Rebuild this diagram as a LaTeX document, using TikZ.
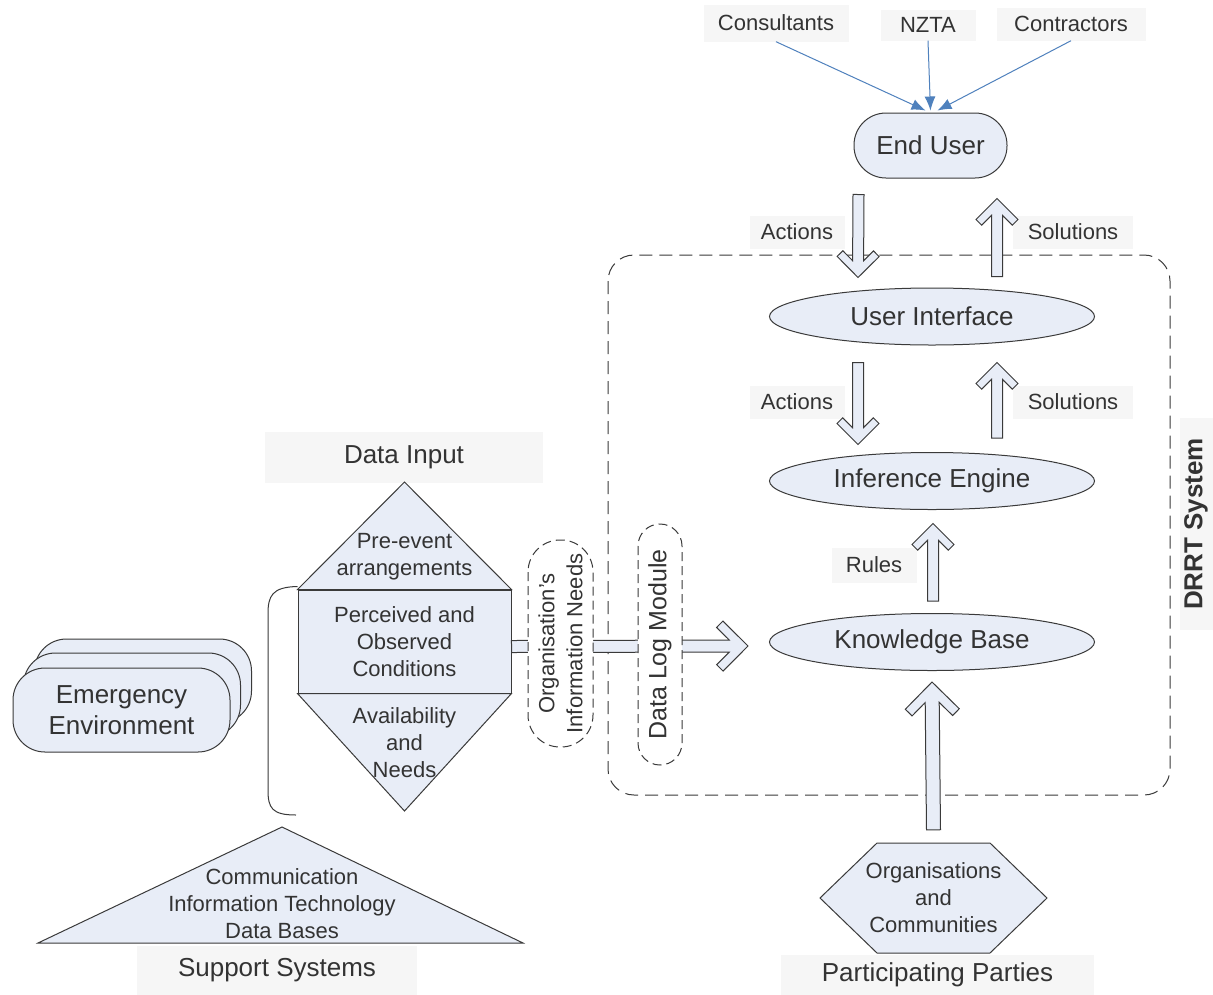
\documentclass[tikz,border=0pt]{standalone}
\usepackage{fontspec}
\setmainfont{Liberation Sans}
\usetikzlibrary{calc,shapes.geometric,arrows.meta}
\tikzset{>=Latex}
\definecolor{shapefill}{HTML}{E8EDF7}
\definecolor{tagfill}{HTML}{F6F6F6}
\definecolor{feedblue}{HTML}{4F81BD}
\definecolor{inktext}{HTML}{333333}
\definecolor{edge}{HTML}{3A3A3A}

\tikzset{
	body/.style={text=inktext, font=\fontsize{22}{27}\selectfont, align=center, inner sep=0pt},
	tag/.style={body, fill=tagfill},
	heading/.style={tag, font=\fontsize{26}{30}\selectfont},
	boxed/.style={draw=edge, fill=shapefill, line width=1pt},
	oval/.style={boxed, ellipse, minimum width=325, minimum height=57, inner sep=0pt, text=inktext, font=\fontsize{26}{30}\selectfont},
	pill/.style={boxed, rounded corners=32, text=inktext, align=center},
	pocket/.style={draw=edge, line width=1pt, dash pattern=on 9pt off 5pt, fill=white, rotate=90, inner sep=0pt, text=inktext, align=center},
	feed/.style={draw=feedblue, line width=1pt, -{Latex[length=14pt,width=11pt]}},
	fatarrow/.style args={#1/#2/#3}{boxed,
		/utils/exec={\pgfmathsetmacro\dneck{#3*1.4142+#1}\pgfmathsetmacro\dcap{#2+#3*0.7071}\pgfmathsetmacro\vcap{#2-#3*0.7071}},
		to path={($(\tikztostart)!#1pt!90:(\tikztotarget)$)
			-- ($($(\tikztotarget)!\dneck pt!(\tikztostart)$)!#1pt!90:(\tikztotarget)$)
			-- ($($(\tikztotarget)!\dcap pt!(\tikztostart)$)!\vcap pt!90:(\tikztotarget)$)
			-- ($($(\tikztotarget)!#2pt!(\tikztostart)$)!#2pt!90:(\tikztotarget)$)
			-- (\tikztotarget)
			-- ($($(\tikztotarget)!#2pt!(\tikztostart)$)!#2pt!-90:(\tikztotarget)$)
			-- ($($(\tikztotarget)!\dcap pt!(\tikztostart)$)!\vcap pt!-90:(\tikztotarget)$)
			-- ($($(\tikztotarget)!\dneck pt!(\tikztostart)$)!#1pt!-90:(\tikztotarget)$)
			-- ($(\tikztostart)!#1pt!-90:(\tikztotarget)$)
			-- cycle}},
}

\begin{document}
\begin{tikzpicture}[x=1pt,y=-1pt]
	\path[fill=white,use as bounding box] (0,0) rectangle (1213,994);

	% DRRT system boundary
	\draw[draw=edge, line width=1pt, dash pattern=on 13pt off 7pt, rounded corners=26] (608,255) rectangle (1170,795);
	\node[tag, rotate=90, minimum width=212, minimum height=33, font=\bfseries\fontsize{26}{30}\selectfont] (drrt) at (1196,524) {DRRT System};

	% end user and its sources
	\node[tag, minimum width=145, minimum height=37] (consultants) at (776,23) {Consultants};
	\node[tag, minimum width=95, minimum height=31] (nzta) at (928,25) {NZTA};
	\node[tag, minimum width=149, minimum height=33] (contractors) at (1071,24) {Contractors};
	\node[pill, minimum width=153, minimum height=65, font=\fontsize{26}{30}\selectfont] (enduser) at (930.5,145.5) {End User};
	\draw[feed] (consultants.south) -- ([xshift=-5,yshift=2]enduser.north);
	\draw[feed] (nzta.south) -- ([yshift=2]enduser.north);
	\draw[feed] (contractors.south) -- ([xshift=7,yshift=2]enduser.north);

	\node[oval] (ui) at (932,316.5) {User Interface};
	\node[oval] (ie) at (932,481) {Inference Engine};
	\node[oval] (kb) at (932,642) {Knowledge Base};

	\node[tag, minimum width=95, minimum height=33] (act1) at (797,232) {Actions};
	\node[tag, minimum width=120, minimum height=33] (sol1) at (1073,232) {Solutions};
	\node[tag, minimum width=95, minimum height=33] (act2) at (797,402) {Actions};
	\node[tag, minimum width=120, minimum height=33] (sol2) at (1073,402) {Solutions};
	\node[tag, minimum width=85, minimum height=35] (rules) at (874,565) {Rules};

	\draw[fatarrow=5.5/21/8] ($(enduser.south)+(-72,16)$) to ($(ui.north)+(-74,-10)$);
	\draw[fatarrow=5.5/21/8] ($(ui.north)+(65,-11)$) to ($(enduser.south)+(66.5,20)$);
	\draw[fatarrow=5.5/21/8] ($(ui.south)+(-74,17)$) to ($(ie.north)+(-74,-7.5)$);
	\draw[fatarrow=5.5/21/8] ($(ie.north)+(65,-14)$) to ($(ui.south)+(65,17)$);
	\draw[fatarrow=5.5/21/8] ($(kb.north)+(1,-12)$) to ($(ie.south)+(1,13.5)$);

	% data input
	\node[heading, minimum width=278, minimum height=51] (datainput) at (404,457) {Data Input};
	\node[boxed, body, minimum width=213, minimum height=103] (perceived) at (404.5,641.5) {Perceived and\\Observed\\Conditions};
	\draw[boxed] (perceived.north west) -- (404.5,482) -- (perceived.north east) -- cycle;
	\draw[boxed] (perceived.south west) -- (404.5,811) -- (perceived.south east) -- cycle;
	\node[body] (preevent) at (404.5,557) {Pre-event\\arrangements};
	\node[body] (avail) at (404.5,743) {Availability\\and\\Needs};
	\draw[draw=edge, line width=1pt] ($(perceived.north west)+(0,-3)$) .. controls (272,587) and (268,596) .. (268,614) -- (268,790) .. controls (268,808) and (272,815) .. (296,815);

	\draw[fatarrow=6/25/9] ($(perceived.east)+(0,5)$) to ($(kb.west)+(-21,4)$);
	\node[pocket, minimum width=207, minimum height=65, rounded corners=32, font=\fontsize{22}{28}\selectfont] (orgneeds) at (560.5,643.5) {Organisation's\\Information Needs};
	\node[pocket, minimum width=241, minimum height=44, rounded corners=22, font=\fontsize{25}{30}\selectfont] (datalog) at (660,644.5) {Data Log Module};

	% emergency environment
	\node[pill, minimum width=217, minimum height=84] (emerg3) at (143,681) {};
	\node[pill, minimum width=217, minimum height=84] (emerg2) at (132,695) {};
	\node[pill, minimum width=217, minimum height=84, font=\fontsize{26}{31}\selectfont] (emerg) at (121.5,710) {Emergency\\Environment};

	% support systems
	\draw[boxed] (282,827) -- (523,943) -- (38,943) -- cycle;
	\node[body] (support) at (282,904) {Communication\\Information Technology\\Data Bases};
	\node[heading, minimum width=280, minimum height=49] (supporttitle) at (277,970) {Support Systems};

	% participating parties
	\draw[boxed] (877,843) -- (990,843) -- (1047,898) -- (990,953) -- (877,953) -- (820,898) -- cycle;
	\node[body, minimum height=110] (orgs) at (933.5,898) {Organisations\\and\\Communities};
	\draw[fatarrow=7/27/9.5] ($(orgs.north)+(0,-13)$) to ($(kb.south)+(0,11)$);
	\node[heading, minimum width=313, minimum height=40] (parties) at (937.5,975) {Participating Parties};
\end{tikzpicture}
\end{document}
